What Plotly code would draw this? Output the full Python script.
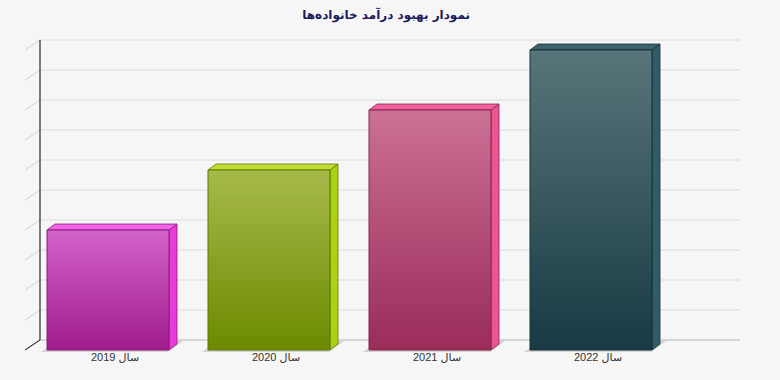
import plotly.graph_objects as go

# ---- data ----
categories = ["سال 2019", "سال 2020", "سال 2021", "سال 2022"]
values = [40, 60, 80, 100]
grid_values = [0, 10, 20, 30, 40, 50, 60, 70, 80, 90, 100]
title_text = "نمودار بهبود درآمد خانواده‌ها"

front_top = ["#d262c8", "#a6ba4a", "#cc7094", "#587579"]
front_bottom = ["#a01c8e", "#6c8a00", "#9a2c5a", "#183a44"]
top_colors = ["#f262e4", "#c2de34", "#f0609c", "#3c636b"]
side_colors = ["#e83cd8", "#aad412", "#ea5592", "#2e5d67"]
edge_colors = ["#8c1a7e", "#5f7800", "#86264f", "#163038"]

# ---- geometry (pixels converted to axis units) ----
PXX = 161.0  # px per x unit
PXY = 3.0    # px per y unit
bar_w = 122 / PXX
bdx, bdy = 8 / PXX, 6 / PXY
wdx, wdy = 15 / PXX, 10 / PXY
x0, x1 = -83 / PXX, 632 / PXX
y0, y1 = -1, 104

fig = go.Figure()

# shadows on the floor
for i, v in enumerate(values):
    L, R = i - bar_w / 2, i + bar_w / 2
    fig.add_trace(go.Scatter(
        x=[L - 6 / PXX, R - 1 / PXX, R + 14 / PXX, L + 9 / PXX, L - 6 / PXX],
        y=[-0.67, -0.67, 3.0, 3.0, -0.67],
        fill="toself", fillcolor="#d3d3d3", mode="lines",
        line=dict(width=0), hoverinfo="skip", showlegend=False))

# bars: side, top, front
for i, v in enumerate(values):
    L, R = i - bar_w / 2, i + bar_w / 2
    fig.add_trace(go.Scatter(
        x=[R, R + bdx, R + bdx, R, R], y=[0, bdy, v + bdy, v, 0],
        fill="toself", fillcolor=side_colors[i], mode="lines",
        line=dict(width=0.8, color=edge_colors[i]), hoverinfo="skip", showlegend=False))
    fig.add_trace(go.Scatter(
        x=[L, R, R + bdx, L + bdx, L], y=[v, v, v + bdy, v + bdy, v],
        fill="toself", fillcolor=top_colors[i], mode="lines",
        line=dict(width=0.8, color=edge_colors[i]), hoverinfo="skip", showlegend=False))
    fig.add_trace(go.Scatter(
        x=[L, R, R, L, L], y=[0, 0, v, v, 0],
        fill="toself",
        fillgradient=dict(type="vertical",
                          colorscale=[[0, front_bottom[i]], [1, front_top[i]]]),
        mode="lines", line=dict(width=1, color=edge_colors[i]),
        name=categories[i], hovertemplate=categories[i] + ": %{customdata}<extra></extra>",
        customdata=[v] * 5, showlegend=False))

shapes = []
for g in grid_values:
    col = "#b5b5b5" if g == 0 else "#dadada"
    shapes.append(dict(type="line", xref="x", yref="y", layer="below",
                       x0=x0 + wdx, x1=x1, y0=g + wdy, y1=g + wdy,
                       line=dict(color=col, width=1)))
    shapes.append(dict(type="line", xref="x", yref="y", layer="below",
                       x0=x0, x1=x0 + wdx, y0=g, y1=g + wdy,
                       line=dict(color="#000000" if g == 0 else "#cfcfcf", width=1)))
shapes.append(dict(type="line", xref="x", yref="y", layer="below",
                   x0=x0 + wdx, x1=x0 + wdx, y0=wdy, y1=grid_values[-1] + wdy,
                   line=dict(color="#000000", width=1)))

annotations = []
for i, c in enumerate(categories):
    annotations.append(dict(x=i, y=y0, xref="x", yref="y", yanchor="middle",
                            xshift=7, yshift=-4, showarrow=False,
                            text="\u202b" + c + "\u202c",
                            font=dict(family="Liberation Sans, DejaVu Sans", size=11,
                                      color="#333333")))

fig.update_layout(
    width=780, height=380,
    margin=dict(l=25, r=40, t=38, b=27),
    paper_bgcolor="#f6f6f6", plot_bgcolor="#f6f6f6",
    title=dict(text="<b>" + title_text + "</b>", x=0.495, xanchor="center",
               y=0.96, yanchor="middle",
               font=dict(family="DejaVu Sans", size=12, color="#1c1c5e")),
    xaxis=dict(range=[x0, x1], showgrid=False, zeroline=False, showticklabels=False,
               showline=False, fixedrange=True),
    yaxis=dict(range=[y0, y1], showgrid=False, zeroline=False, showticklabels=False,
               showline=False, fixedrange=True),
    shapes=shapes, annotations=annotations, showlegend=False,
)

fig.write_html("out.html", config={"displayModeBar": False},
               post_script="document.body.style.margin='0';document.body.style.background='#f6f6f6';")
